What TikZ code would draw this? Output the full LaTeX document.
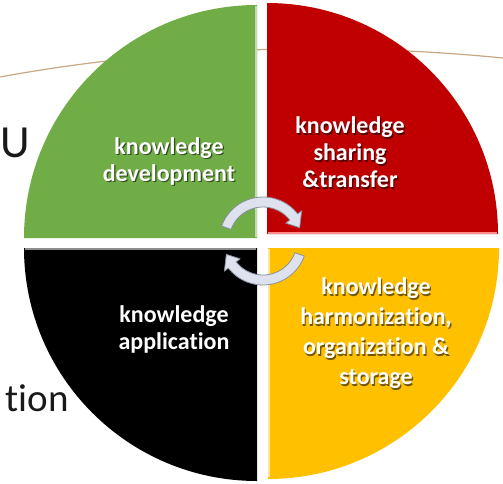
\documentclass[tikz,border=0pt]{standalone}
\usepackage{fontspec}
\setmainfont{Carlito}[Ligatures={NoCommon,NoRare,NoDiscretionary,NoContextual}]
\definecolor{qgreen}{HTML}{70AD47}
\definecolor{qred}{HTML}{C00000}
\definecolor{qyellow}{HTML}{FFC000}
\definecolor{qblack}{HTML}{000000}
\definecolor{arcline}{HTML}{C8A882}
\definecolor{arrowfill}{HTML}{DDE2EE}
\definecolor{arrowdraw}{HTML}{8A90A0}
\tikzset{
  lbl/.style={text=white, font=\fontsize{24}{27}\selectfont\bfseries, align=center, inner sep=0pt},
  lblshadow/.style={lbl, text=black, opacity=0.55},
  bigtext/.style={text=black!90, inner sep=0pt},
  cyc/.style={fill=arrowfill, draw=arrowdraw, line width=0.8pt, line join=round}
}
\begin{document}
\begin{tikzpicture}[x=1pt,y=1pt]
\useasboundingbox (0,0) rectangle (503,483);
\fill[white] (0,0) rectangle (503,483);
% background arc line
\coordinate (l0) at (0,406);
\coordinate (l1) at (503,425);
\draw[arcline, line width=1.2pt] (l0) .. controls (170,437) and (340,441) .. (l1);
% background text fragments
\node[bigtext, anchor=base west, font=\fontsize{46}{46}\selectfont] (u) at (0,326) {U};
\node[bigtext, anchor=base east, font=\fontsize{39}{39}\selectfont] (tion) at (69,72) {tion};
% quadrants
\fill[qgreen] (257,245) -- (24,245) arc[start angle=180, end angle=90, radius=233] -- cycle;
\fill[qred] (267,249) -- (267,480) arc[start angle=90, end angle=0, radius=231] -- cycle;
\fill[qyellow] (268,235) -- (499,235) arc[start angle=0, end angle=-90, radius=231] -- cycle;
\fill[qblack] (257,235) -- (257,2) arc[start angle=-90, end angle=-180, radius=233] -- cycle;
% bevel edges
\draw[qgreen!45!white, line width=1.5pt] (256,246) -- (256,477);
\draw[red!45!white, line width=1.5pt] (268,250) -- (497,250);
\draw[qyellow!40!white, line width=1.5pt] (269,234) -- (269,6);
\draw[black!45!white, line width=1.5pt] (25,234) -- (256,234);
% cycle arrows
\begin{scope}[shift={(263,242)}]
\path[cyc] (160:44) arc[start angle=160, end angle=38, radius=44] -- (38:49) -- (20:39) -- (38:29) -- (38:34) arc[start angle=38, end angle=160, radius=34] -- cycle;
\path[cyc] (-20:44) arc[start angle=-20, end angle=-142, radius=44] -- (218:49) -- (200:39) -- (218:29) -- (218:34) arc[start angle=-142, end angle=-20, radius=34] -- cycle;
\end{scope}
% labels
\node[lblshadow] (gs) at (170.2,320.3) {knowledge\\development};
\node[lbl] (g) at (169,321.5) {knowledge\\development};
\node[lblshadow] (rs) at (351.2,329.3) {knowledge\\sharing\\\&transfer};
\node[lbl] (r) at (350,330.5) {knowledge\\sharing\\\&transfer};
\node[lblshadow] (bs) at (175.2,152.3) {knowledge\\application};
\node[lbl] (b) at (174,153.5) {knowledge\\application};
\node[lblshadow, font=\fontsize{24}{30}\selectfont\bfseries] (ys) at (377.2,148.3) {knowledge\\harmonization,\\organization \&\\storage};
\node[lbl, font=\fontsize{24}{30}\selectfont\bfseries] (y) at (376,149.5) {knowledge\\harmonization,\\organization \&\\storage};
\end{tikzpicture}
\end{document}
